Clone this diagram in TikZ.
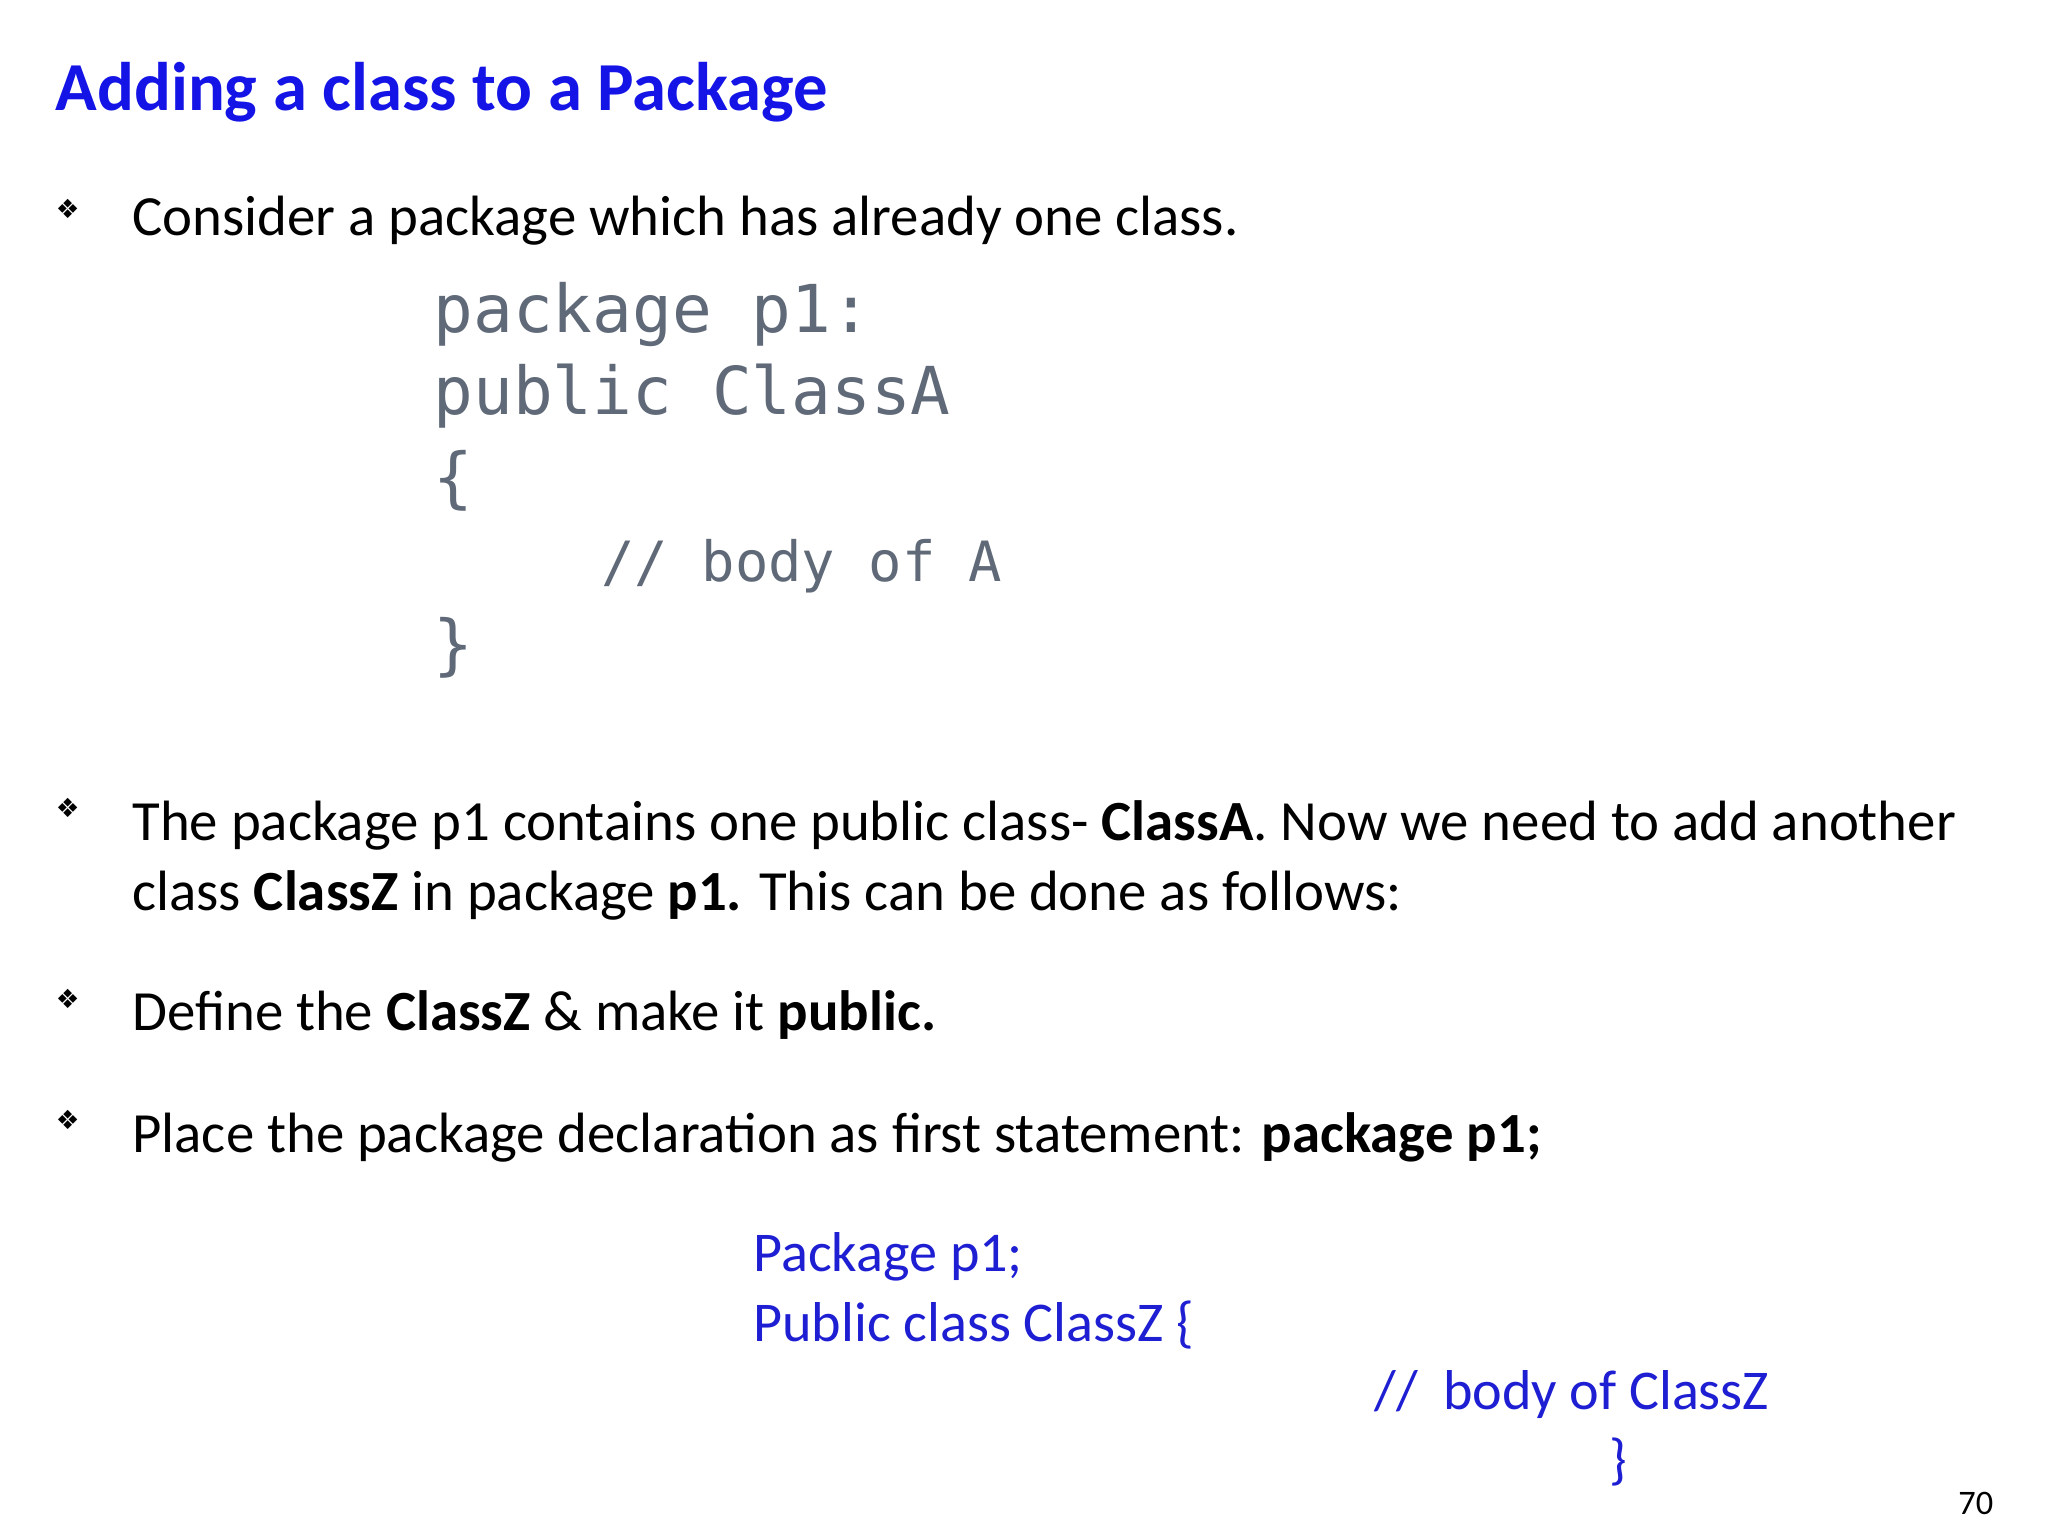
\documentclass[tikz,border=0pt]{standalone}
\usepackage{fontspec}
\setmainfont{Carlito}
\newfontfamily\dvs{DejaVu Sans}
\newfontfamily\codefont{DejaVu Sans Mono}
\definecolor{ttl}{RGB}{20,20,230}
\definecolor{codeblue}{RGB}{30,30,210}
\definecolor{codegray}{RGB}{95,105,120}
\begin{document}
\begin{tikzpicture}[x=1pt,y=-1pt,
  txt/.style={anchor=base west,inner sep=0pt,font=\fontsize{43}{50}\selectfont},
  bul/.style={anchor=base west,inner sep=0pt,font=\dvs\fontsize{20}{22}\selectfont},
  code/.style={anchor=base west,inner sep=0pt,text=codegray,font=\codefont\fontsize{50}{60}\selectfont},
  blu/.style={anchor=base west,inner sep=0pt,text=codeblue,font=\fontsize{42.5}{50}\selectfont}]
\useasboundingbox (0,0) rectangle (1550,1162.5);
\node[anchor=base west,inner sep=0pt,text=ttl,font=\bfseries\fontsize{52}{60}\selectfont] (title) at (42,84) {Adding a class to a Package};
\node[bul] (b1) at (42,165) {❖};
\node[txt] (t1) at (100,178) {Consider a package which has already one class.};
\node[code] (c1) at (328,252) {package p1:};
\node[code] (c2) at (328,314) {public ClassA};
\node[code] (c3) at (328,379) {\{};
\node[code,font=\codefont\fontsize{42}{50}\selectfont] (c4) at (455,440) {// body of A};
\node[code] (c5) at (328,505) {\}};
\node[bul] (b2) at (42,619) {❖};
\node[txt] (t2) at (100,636) {The package p1 contains one public class- \textbf{ClassA}. Now we need to add another};
\node[txt] (t2b) at (100,689) {class \textbf{ClassZ} in package \textbf{p1.} This can be done as follows:};
\node[bul] (b3) at (42,763) {❖};
\node[txt] (t3) at (100,780) {Define the \textbf{ClassZ} \& make it \textbf{public.}};
\node[bul] (b4) at (42,855) {❖};
\node[txt] (t4) at (100,872) {Place the package declaration as first statement: \textbf{package p1;}};
\node[blu] (z1) at (570,962) {Package p1;};
\node[blu] (z2) at (570,1015) {Public class ClassZ \{};
\node[blu] (z3) at (1040,1067) {//\ \ body of ClassZ};
\node[blu] (z4) at (1218,1119) {\}};
\node[anchor=base west,inner sep=0pt,font=\fontsize{26}{30}\selectfont] (pg) at (1482,1146) {70};
\end{tikzpicture}
\end{document}
